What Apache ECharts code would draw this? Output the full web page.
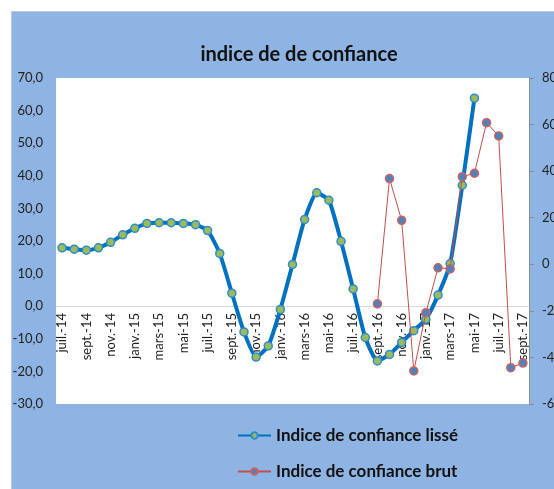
<!DOCTYPE html>
<html>
<head>
<meta charset="utf-8">
<script src="https://cdn.jsdelivr.net/npm/echarts@6/dist/echarts.min.js"></script>
<style>
  html, body { margin: 0; padding: 0; background: #fff; }
  #frame {
    position: absolute; left: 11px; top: 11px; width: 543px; height: 478px;
    background: #8EB4E3; border-left: 1px solid #C3CAD5; border-top: 1px solid #C3CAD5;
  }
  #chart { position: absolute; left: 0; top: 0; width: 554px; height: 489px; }
</style>
</head>
<body>
<div id="frame"></div>
<div id="chart"></div>
<script>
// mois, de juil. 2014 à sept. 2017
const months = ['juil.-14', 'août-14', 'sept.-14', 'oct.-14', 'nov.-14', 'déc.-14',
  'janv.-15', 'févr.-15', 'mars-15', 'avr.-15', 'mai-15', 'juin-15',
  'juil.-15', 'août-15', 'sept.-15', 'oct.-15', 'nov.-15', 'déc.-15',
  'janv.-16', 'févr.-16', 'mars-16', 'avr.-16', 'mai-16', 'juin-16',
  'juil.-16', 'août-16', 'sept.-16', 'oct.-16', 'nov.-16', 'déc.-16',
  'janv.-17', 'févr.-17', 'mars-17', 'avr.-17', 'mai-17', 'juin-17',
  'juil.-17', 'août-17', 'sept.-17']

// indice lissé (axe de gauche)
const lisse = [17.9, 17.5, 17.2, 17.9, 19.6, 21.9, 23.9, 25.4, 25.6, 25.6, 25.4, 25.0,
  23.2, 16.2, 4.0, -7.9, -15.6, -12.2, -1.0, 12.8, 26.6, 34.8, 32.5, 19.9,
  5.3, -9.6, -16.8, -14.8, -11.1, -7.5, -4.0, 3.4, 13.1, 37.1, 63.8]

// indice brut (axe de droite), à partir de sept.-16
const brut = [null, null, null, null, null, null, null, null, null, null, null, null,
  null, null, null, null, null, null, null, null, null, null, null, null,
  null, null, -17.0, 36.8, 18.9, -45.8, -20.8, -1.5, -2.0, 37.6, 39.1, 60.8,
  55.1, -44.4, -42.4]

const font = 'Lato, "Liberation Sans", sans-serif'

const myChart = echarts.init(document.getElementById('chart'))
const option = {
  backgroundColor: 'transparent',
  animation: false,
  textStyle: { fontFamily: font },
  title: {
    text: 'indice de de confiance',
    left: 294,
    top: 40,
    textAlign: 'center',
    textStyle: { fontSize: 20, fontWeight: 'bold', color: '#111', fontFamily: font },
  },
  legend: {
    orient: 'vertical',
    left: 237,
    top: 427,
    padding: 0,
    itemWidth: 33,
    itemHeight: 8,
    itemGap: 19,
    textStyle: { fontSize: 17, fontWeight: 'bold', color: '#111', fontFamily: font },
    data: ['Indice de confiance lissé', 'Indice de confiance brut'],
  },
  grid: {
    left: 56,
    top: 78,
    right: 25,
    bottom: 85,
    outerBoundsMode: 'none',
    show: true,
    backgroundColor: '#fff',
    borderWidth: 0,
  },
  xAxis: {
    type: 'category',
    data: months,
    boundaryGap: true,
    // axe placé au niveau du 0 de l'axe de gauche
    offset: -98,
    axisLine: { onZero: false, lineStyle: { color: '#D9D9D9', width: 1 } },
    axisTick: { show: false },
    axisLabel: {
      rotate: 90,
      interval: 1,
      margin: 7,
      fontSize: 13,
      color: '#222',
      fontFamily: font,
    },
  },
  yAxis: [
    {
      type: 'value',
      min: -30,
      max: 70,
      interval: 10,
      splitLine: { show: false },
      axisLine: { show: false },
      axisTick: { show: false },
      axisLabel: {
        margin: 13,
        fontSize: 13,
        color: '#222',
        fontFamily: font,
        formatter: (v) => v.toFixed(1).replace('.', ','),
      },
    },
    {
      type: 'value',
      min: -60,
      max: 80,
      interval: 20,
      position: 'right',
      splitLine: { show: false },
      axisLine: { show: true, lineStyle: { color: '#8C8C8C' } },
      axisTick: { show: true, length: 5, lineStyle: { color: '#8C8C8C' } },
      axisLabel: { margin: 13, fontSize: 13, color: '#222', fontFamily: font },
    },
  ],
  series: [
    {
      name: 'Indice de confiance lissé',
      type: 'line',
      yAxisIndex: 0,
      data: lisse,
      smooth: 0.18,
      showAllSymbol: true,
      symbol: 'circle',
      symbolSize: 8,
      lineStyle: { color: '#0070C0', width: 4 },
      itemStyle: { color: '#9BBB59', borderColor: '#2E8BD0', borderWidth: 1.5 },
      z: 3,
    },
    {
      name: 'Indice de confiance brut',
      type: 'line',
      yAxisIndex: 1,
      data: brut,
      showAllSymbol: true,
      symbol: 'circle',
      symbolSize: 8,
      lineStyle: { color: '#C0504D', width: 1 },
      itemStyle: { color: '#4F81BD', borderColor: '#D0605D', borderWidth: 1.5 },
      z: 4,
    },
  ],
}
myChart.setOption(option)
</script>
</body>
</html>
